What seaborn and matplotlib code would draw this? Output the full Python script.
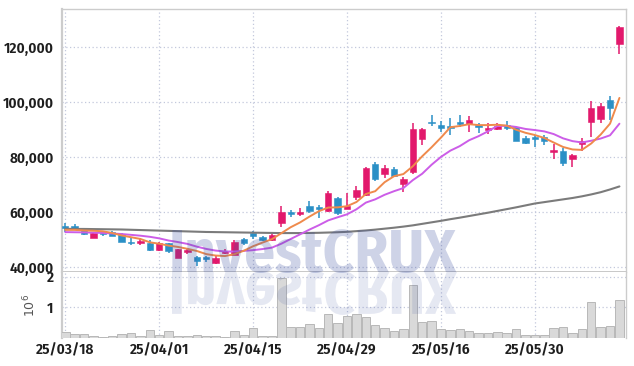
import matplotlib
matplotlib.use('Agg')
import os
import matplotlib.pyplot as plt
import matplotlib.font_manager as fm
import seaborn as sns
import numpy as np
import pandas as pd
from matplotlib.textpath import TextPath
from matplotlib.patches import PathPatch
from matplotlib.font_manager import FontProperties
from matplotlib.transforms import Affine2D, IdentityTransform

# tick labels (every 10 trading days)
tick_labels = ['25/03/18', '25/04/01', '25/04/15', '25/04/29', '25/05/16', '25/05/30']
tick_idx = [0, 10, 20, 30, 40, 50]

# daily OHLC
open_ = [54600, 54900, 53700, 50700, 52400, 52700, 52000, 48950, 49100, 48850,
         46200, 48600, 43300, 45700, 43750, 43250, 41600, 45300, 44400, 50200,
         52500, 51000, 49800, 55900, 59600, 59300, 62200, 61500, 60400, 65000,
         61100, 65400, 66200, 77450, 73800, 75500, 70200, 74700, 86400, 92600,
         91650, 90900, 92350, 92000, 91650, 89800, 90300, 91500, 90800, 86800,
         87150, 87150, 81900, 82200, 79200, 84700, 92850, 93800, 100700, 121100]
high = [55900, 55500, 54200, 52700, 53000, 53200, 52200, 50900, 50600, 49800,
        49000, 48800, 46600, 46800, 44000, 44100, 44000, 46600, 49800, 50400,
        53200, 51300, 51900, 62300, 60700, 61600, 64000, 62550, 67600, 65300,
        66800, 69500, 76300, 78300, 77100, 76300, 72600, 92250, 90400, 95300,
        93000, 94100, 95300, 94900, 92500, 92250, 92250, 93200, 91000, 87750,
        88000, 88000, 84700, 83400, 81000, 86800, 100400, 99750, 102200, 127600]
low = [52850, 53500, 51800, 50500, 51300, 51200, 49000, 48000, 48000, 46000,
       46000, 45000, 43200, 44700, 40300, 41700, 41100, 44700, 44200, 48000,
       50100, 49600, 49600, 54700, 58100, 58600, 59800, 57700, 60000, 58900,
       61000, 64400, 65800, 71300, 72300, 72600, 67400, 74000, 84400, 91300,
       89200, 88000, 91000, 89200, 88800, 88400, 89800, 89800, 85800, 84700,
       83750, 84400, 79200, 76850, 76500, 82200, 87200, 92250, 93450, 117500]
close = [54500, 53700, 52000, 52500, 52300, 51400, 49200, 48850, 49300, 46200,
         48850, 45800, 46400, 45900, 42300, 43150, 43150, 45500, 49200, 48600,
         51400, 49800, 51600, 60100, 59500, 60100, 60400, 61400, 66800, 59800,
         62200, 68000, 75900, 72000, 76100, 73100, 71900, 90100, 90100, 92500,
         90700, 90800, 92250, 93450, 90800, 90700, 91400, 90700, 86000, 85200,
         86650, 86000, 82500, 77900, 80700, 85800, 97700, 98650, 97800, 127400]
volume = [0.20, 0.12, 0.12, 0.075, 0.04, 0.08, 0.14, 0.17, 0.07, 0.26,
          0.11, 0.23, 0.07, 0.08, 0.10, 0.08, 0.07, 0.04, 0.23, 0.10,
          0.33, 0.08, 0.08, 1.95, 0.37, 0.37, 0.46, 0.34, 0.78, 0.49,
          0.71, 0.78, 0.68, 0.43, 0.33, 0.23, 0.30, 1.73, 0.53, 0.56,
          0.30, 0.25, 0.30, 0.22, 0.17, 0.17, 0.19, 0.17, 0.29, 0.10,
          0.10, 0.10, 0.33, 0.37, 0.16, 0.29, 1.17, 0.37, 0.39, 1.24]
volume = [v * 1e6 for v in volume]

# moving averages: the first values depend on earlier days, so read them
ma5_head = [53500, 53500, 53300, 53200]
ma10_head = [52700, 52650, 52600, 52500, 52400, 52200, 52000, 51700, 51400]
ma60 = [53900, 53850, 53850, 53800, 53750, 53700, 53650, 53550, 53450, 53350,
        53250, 53150, 53050, 52950, 52850, 52750, 52700, 52650, 52600, 52550,
        52500, 52450, 52400, 52350, 52350, 52350, 52400, 52450, 52550, 52650,
        52800, 53050, 53300, 53600, 53950, 54300, 54700, 55150, 55700, 56250,
        56800, 57400, 57950, 58550, 59150, 59750, 60400, 61050, 61700, 62400,
        63100, 63600, 64100, 64600, 65100, 65700, 66400, 67200, 68200, 69300]

df = pd.DataFrame({'open': open_, 'high': high, 'low': low, 'close': close, 'volume': volume})
df['idx'] = np.arange(len(df))
ma5 = df['close'].rolling(5).mean().to_numpy()
ma5[:4] = ma5_head
ma10 = df['close'].rolling(10).mean().to_numpy()
ma10[:9] = ma10_head

UP = '#e2196c'
DOWN = '#2b90c6'


def font_file(*basenames):
    files = {os.path.basename(f.fname).lower(): f.fname for f in fm.fontManager.ttflist}
    for b in basenames:
        if b.lower() in files:
            return files[b.lower()]
    return None


label_file = font_file('FiraSansCondensed-SemiBold.ttf', 'FiraSansCondensed-Bold.ttf',
                       'FiraSansCondensed-Medium.ttf')
wm_file = font_file('FiraSansCondensed-Bold.ttf', 'FiraSansCondensed-ExtraBold.ttf')
if label_file:
    label_fp = FontProperties(fname=label_file, size=11)
else:
    label_fp = FontProperties(family='DejaVu Sans', weight='bold', size=8.5)
if wm_file:
    wm_fp = FontProperties(fname=wm_file)
else:
    wm_fp = FontProperties(family='DejaVu Sans', weight='bold')

sns.set_theme(style='white')
plt.rcParams['font.family'] = ['DejaVu Sans']

fig = plt.figure(figsize=(6.34, 3.66), dpi=100)
W, H = 634, 366
ax_p = fig.add_axes([62 / W, 1 - 272 / H, (626 - 62) / W, (272 - 9) / H])
ax_v = fig.add_axes([62 / W, 1 - 338 / H, (626 - 62) / W, (338 - 272) / H], sharex=ax_p)

# candles
up = df['close'] >= df['open']
colors = np.where(up, UP, DOWN)
body_lo = np.minimum(df['open'], df['close'])
body_h = np.abs(df['close'] - df['open'])
min_h = 650
small = body_h < min_h
body_lo = np.where(small, (df['open'] + df['close']) / 2 - min_h / 2, body_lo)
body_h = np.where(small, min_h, body_h)
ax_p.vlines(df['idx'], df['low'], df['high'], colors=colors, linewidth=1.1, zorder=2)
ax_p.bar(df['idx'], body_h, bottom=body_lo, width=0.68, color=colors,
         edgecolor=colors, linewidth=0.4, zorder=3)

# moving averages
sns.lineplot(x=df['idx'], y=ma60, ax=ax_p, color='#7b7b7b', linewidth=1.5, zorder=4)
sns.lineplot(x=df['idx'], y=ma10, ax=ax_p, color='#cc5de8', linewidth=1.4, zorder=5)
sns.lineplot(x=df['idx'], y=ma5, ax=ax_p, color='#ef8a4c', linewidth=1.4, zorder=6)

# volume
sns.barplot(x=df['idx'], y=df['volume'], ax=ax_v, native_scale=True, color='#d9d9d9',
            saturation=1, edgecolor='#b8b8b8', linewidth=0.7, width=0.9, zorder=3)

grid_kw = dict(color='#c3c8dc', linestyle=(0, (1, 2)), linewidth=0.9)
for ax in (ax_p, ax_v):
    ax.set_xlim(-0.35, 59.7)
    ax.set_xticks(tick_idx)
    ax.grid(True, **grid_kw)
    ax.set_axisbelow(True)
    ax.tick_params(length=0, colors='#222222', pad=6)
    ax.set_xlabel('')
    ax.set_ylabel('')
    for s in ax.spines.values():
        s.set_color('#cccccc')
        s.set_linewidth(1.0)
    ax.spines['left'].set_linewidth(1.6)

price_ticks = [40000, 60000, 80000, 100000, 120000]
ax_p.set_ylim(38200, 133800)
ax_p.set_yticks(price_ticks)
ax_p.set_yticklabels([f'{v:,.0f}' for v in price_ticks])
ax_p.tick_params(axis='x', labelbottom=False)
ax_p.spines['bottom'].set_linewidth(1.4)
ax_p.spines['bottom'].set_color('#c8c8c8')

ax_v.set_ylim(0, 2.15e6)
ax_v.set_yticks([1e6, 2e6])
ax_v.set_yticklabels(['1', '2'])
ax_v.set_xticklabels(tick_labels)
ax_v.tick_params(axis='x', pad=4)
ax_v.spines['bottom'].set_visible(False)
ax_v.spines['top'].set_visible(False)
ax_v.set_ylabel('$10^6$', fontsize=9, color='#555555', labelpad=6)

for lab in ax_p.get_yticklabels() + ax_v.get_yticklabels() + ax_v.get_xticklabels():
    lab.set_fontproperties(label_fp)
    lab.set_color('#1e1e1e')

# watermark: real text sized to the box, plus a flipped reflection below it
tp = TextPath((0, 0), 'InvestCRUX', size=100, prop=wm_fp)
ext = tp.get_extents()
left_px, right_px, base_px = 172, 457, H - 272
s = (right_px - left_px) / ext.width
org_x = left_px - ext.x0 * s
fig.text(org_x / W, base_px / H, 'InvestCRUX', fontproperties=wm_fp,
         fontsize=100 * s * 72 / 100, color='#3c50a0', alpha=0.25,
         ha='left', va='baseline', zorder=10)
tr_refl = Affine2D().scale(s, -s).translate(org_x, base_px)
fig.add_artist(PathPatch(tp, transform=tr_refl + IdentityTransform(), facecolor='#3c50a0',
                         edgecolor='none', alpha=0.13, zorder=10))

fig.savefig('out.png', dpi=100)
